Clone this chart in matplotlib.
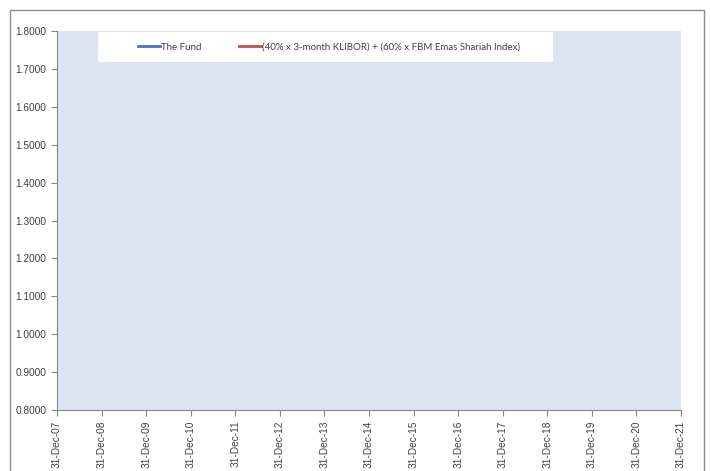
import numpy as np
import matplotlib.pyplot as plt
import matplotlib.dates as mdates
import matplotlib.patches as patches
import pandas as pd

# the chart in the source has no data plotted, only the two empty series
fund_dates = []
fund_values = []
bench_dates = []
bench_values = []

series_names = ["The Fund", "(40% x 3-month KLIBOR) + (60% x FBM Emas Shariah Index)"]
series_colors = ["#4472C4", "#C0504D"]
tick_dates = pd.date_range("2007-12-31", "2021-12-31", freq="YE")
y_ticks = np.arange(0.8, 1.81, 0.1)

fig = plt.figure(figsize=(7.1, 4.71), dpi=100)
ax = fig.add_axes([57 / 710, 1 - 410 / 471, (681 - 57) / 710, (410 - 31) / 471])
ax.set_facecolor("#DBE5F1")

ax.plot(pd.to_datetime(fund_dates), fund_values, color=series_colors[0], lw=2, label=series_names[0])
ax.plot(pd.to_datetime(bench_dates), bench_values, color=series_colors[1], lw=2, label=series_names[1])

ax.set_xlim(tick_dates[0], tick_dates[-1])
ax.set_ylim(0.8, 1.8)
ax.set_xticks(tick_dates)
ax.xaxis.set_major_formatter(mdates.DateFormatter("%d-%b-%y"))
ax.set_yticks(y_ticks)
ax.yaxis.set_major_formatter(plt.FormatStrFormatter("%.4f"))

for side in ["top", "right"]:
    ax.spines[side].set_visible(False)
for side in ["left", "bottom"]:
    ax.spines[side].set_color("#868686")
    ax.spines[side].set_linewidth(0.8)
ax.tick_params(colors="#868686", length=4, width=0.8, labelcolor="#404040")
for lab in ax.get_yticklabels():
    lab.set_fontfamily("Liberation Sans")
    lab.set_fontsize(7.3)
for lab in ax.get_xticklabels():
    lab.set_fontfamily("Liberation Sans")
    lab.set_fontsize(7.3)
    lab.set_rotation(90)

# white legend strip
ax.add_patch(patches.Rectangle(((98 - 57) / 624, (410 - 62) / 379), (553 - 98) / 624, 30 / 379,
                               transform=ax.transAxes, facecolor="white", edgecolor="none", zorder=3))
leg = ax.legend(loc="center left", bbox_to_anchor=((129 - 57) / 624, (410 - 47) / 379), ncol=2,
                frameon=False, handlelength=2.3, handletextpad=0.1, columnspacing=3.8,
                prop={"family": "Lato", "size": 7})
leg.set_zorder(4)
for t in leg.get_texts():
    t.set_color("#404040")

# outer chart border
fig.add_artist(patches.Rectangle((10 / 710, -0.02), (704 - 10) / 710, 1 - 10 / 471 + 0.02,
                                 transform=fig.transFigure, fill=False, edgecolor="#8c8c8c", lw=1))

plt.savefig("out.png")
